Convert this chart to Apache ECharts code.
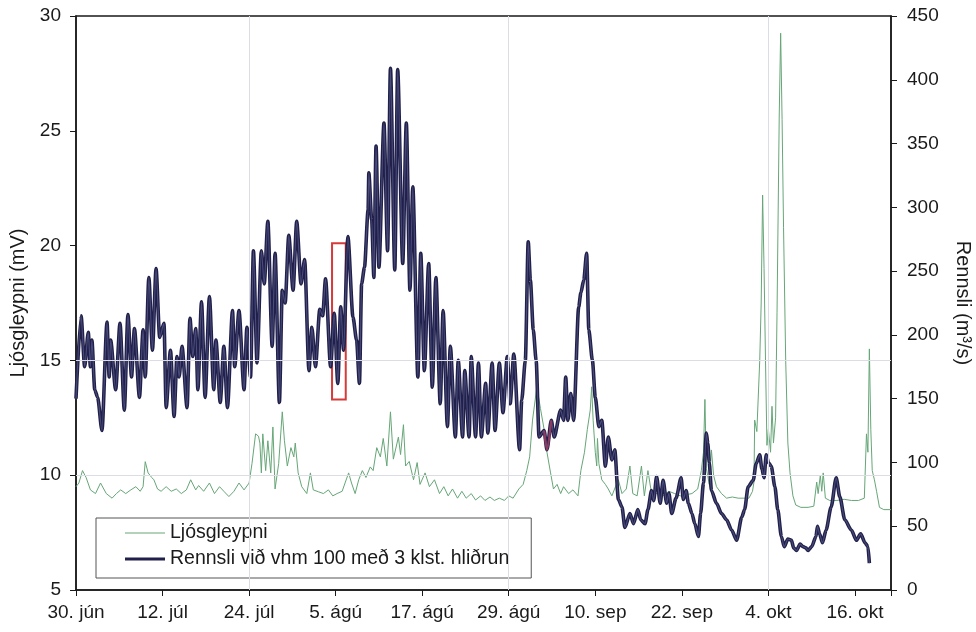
<!DOCTYPE html>
<html>
<head>
<meta charset="utf-8">
<script src="https://cdn.jsdelivr.net/npm/echarts@6/dist/echarts.min.js"></script>
<style>
html,body{margin:0;padding:0;background:#fff;}
#chart{width:976px;height:632px;}
</style>
</head>
<body>
<div id="chart"></div>
<script>
// x values are days after 30. jún
const xTickLabels = ['30. jún','12. júl','24. júl','5. ágú','17. ágú','29. ágú','10. sep','22. sep','4. okt','16. okt'];

// Ljósgleypni (mV), left axis: [day, value]
const ljosgleypni = [
[0,9.5],[0.4,9.66],[0.9,10.2],[1.4,9.9],[2.0,9.36],[2.7,9.2],[3.4,9.66],[4.2,9.2],[5.0,9.0],[5.6,9.2],[6.2,9.36],[6.9,9.2],[7.6,9.36],[8.3,9.5],[8.9,9.3],[9.3,9.5],[9.6,10.59],[10.0,10.1],[10.5,9.9],[10.8,9.8],[11.3,9.4],[11.8,9.3],[12.5,9.5],[13.2,9.3],[13.9,9.4],[14.6,9.2],[15.3,9.36],[15.9,9.8],[16.6,9.36],[17.0,9.55],[17.7,9.3],[18.5,9.66],[19.2,9.2],[19.9,9.5],[20.5,9.3],[21.2,9.07],[21.9,9.3],[22.6,9.66],[23.3,9.36],[24.0,9.66],[24.4,10.5],[24.9,11.8],[25.3,11.7],[25.5,11.4],[25.7,10.1],[25.9,11.8],[26.3,10.2],[26.6,11.5],[27.0,10.1],[27.3,12.1],[27.6,9.4],[28.1,10.5],[28.6,12.76],[28.9,11.5],[29.3,10.4],[29.8,11.2],[30.2,10.8],[30.4,11.4],[30.8,10.1],[31.3,9.5],[32.0,9.2],[32.5,10.1],[32.9,9.36],[33.6,9.28],
[34.3,9.2],[35.0,9.36],[35.6,9.1],[36.2,9.2],[36.9,9.3],[37.8,10.1],[38.2,9.66],[38.7,9.2],[39.2,9.8],[39.7,10.2],[40.2,9.9],[40.8,10.36],[41.2,10.2],[41.7,11.2],[42.2,10.8],[42.6,11.6],[43.1,10.4],[43.6,12.76],[44.0,10.7],[44.7,11.66],[45.0,10.9],[45.4,12.2],[45.7,10.4],[46.2,10.6],[46.8,9.8],[47.3,10.55],[47.7,9.6],[48.4,10.1],[49.0,9.5],[49.7,9.8],[50.4,9.2],[51.0,9.5],[51.6,9.1],[52.2,9.4],[52.9,9.0],[53.5,9.3],[54.1,9.0],[54.8,9.2],[55.4,8.92],[56.1,9.1],[56.7,8.9],[57.4,9.05],[58.0,8.9],[58.7,9.0],[59.4,8.9],[60.0,9.1],[60.6,9.0],[61.4,9.4],[62.0,9.6],[62.5,10.2],[62.9,10.8],[63.3,12.4],[63.9,13.85],[64.4,12.9],[64.9,12.0],[65.3,11.0],[65.8,10.1],[66.2,9.4],[66.7,9.6],[67.2,9.2],[67.6,9.5],[68.3,9.2],[68.9,9.36],[69.6,9.1],[70.0,10.2],[70.5,11.0],[70.9,12.0],[71.3,12.84],[71.5,13.85],[71.7,12.4],[72.0,11.0],[72.2,10.4],[72.3,11.6],[72.5,10.5],[72.9,9.8],[73.4,9.6],[73.8,9.4],[74.3,9.1],[74.8,9.5],[75.2,9.8],[75.7,9.2],[76.3,9.4],[76.8,10.4],[77.2,9.2],[77.8,9.1],
[78.4,10.4],[78.8,9.1],[79.3,10.2],[79.8,9.2],[80.6,9.2],[81.4,9.1],[82.2,9.3],[83.0,9.2],[83.8,9.1],[84.6,9.15],[85.4,9.2],[86.2,9.4],[86.7,10.2],[87.0,11.0],[87.2,13.3],[87.4,10.3],[87.8,9.6],[88.1,11.1],[88.4,10.0],[88.8,9.5],[89.5,9.2],[90.2,9.0],[91.0,9.05],[91.8,9.0],[92.6,9.0],[93.3,9.0],[93.8,9.3],[94.0,9.7],[94.1,12.4],[94.4,11.9],[94.8,15.0],[95.0,17.5],[95.2,22.2],[95.4,19.0],[95.6,15.0],[95.8,11.3],[96.0,12.0],[96.3,11.0],[96.5,13.0],[96.7,11.4],[97.0,12.5],[97.2,17.1],[97.5,25.6],[97.7,29.25],[97.9,25.5],[98.1,20.8],[98.4,15.0],[98.7,11.4],[99.0,10.1],[99.4,9.1],[99.8,8.7],[100.5,8.6],[101.5,8.6],[102.3,8.65],[102.7,9.7],[102.9,9.2],[103.2,10.0],[103.4,9.3],[103.6,10.1],[103.9,9.0],[104.5,8.9],[105.5,8.9],[106.5,8.95],[107.5,8.9],[108.5,8.9],[109.3,9.0],[109.6,11.8],[109.8,11.0],[110.0,15.5],[110.2,12.0],[110.4,10.2],[110.7,9.8],[111.0,9.3],[111.4,8.6],[112.0,8.5],[113,8.5]
];

// Rennsli (m3/s), right axis: [day, value]
const rennsli = [
[0,150],[0.7,215],[1.2,175],[1.7,202],[2.0,175],[2.2,196],[2.6,157],[3.0,151],[3.6,125],[4.3,210],[4.6,167],[4.8,196],[5.5,157],[6.1,209],[6.7,141],[7.2,216],[7.7,167],[8.1,205],[8.8,151],[9.3,204],[9.6,167],[10.1,245],[10.6,188],[11.1,252],[11.6,198],[12.2,209],[12.5,143],[13.1,188],[13.6,136],[14.0,183],[14.3,167],[14.7,191],[15.4,143],[15.8,213],[16.2,183],[16.6,205],[16.9,157],[17.4,226],[17.9,151],[18.5,230],
[19.1,157],[19.4,196],[20.0,147],[20.5,191],[21.0,143],[21.7,219],[22.0,175],[22.6,219],[23.3,157],[23.7,206],[24.2,167],[24.6,266],[25.1,178],[25.7,266],[26.1,240],[26.6,289],[27.2,191],[27.6,264],[28.2,147],[28.6,235],[29.0,225],[29.5,278],[30.1,235],[30.6,289],[31.2,240],[31.7,259],[32.3,172],[32.7,206],[33.2,175],[33.8,220],[34.2,215],[34.6,244],[35.3,175],[35.8,217],[36.3,162],[36.7,222],[37.1,188],[37.7,277],
[38.4,214],[38.9,196],[39.3,162],[39.6,240],[40.0,253],[40.5,298],[40.6,327],[41.0,290],[41.3,245],[41.6,348],[42.0,253],[42.7,366],[43.2,266],[43.6,409],[44.2,251],[44.6,408],[45.3,256],[45.8,366],[46.3,235],[46.7,316],[47.4,167],[47.8,264],[48.3,172],[48.9,256],[49.4,159],[49.9,245],[50.5,146],[50.9,219],[51.5,128],[51.9,191],[52.6,120],[53.0,180],[53.6,120],[53.9,172],[54.5,120],[54.8,183],[55.4,120],[55.8,178],[56.2,120],
[56.8,162],[57.1,123],[57.7,178],[58.1,125],[58.7,178],[59.2,139],[59.8,183],[60.2,146],[60.7,185],[61.5,110],[61.8,149],[62.3,180],[62.7,273],[63.0,243],[63.4,204],[63.8,180],[64.2,120],[64.9,125],[65.3,110],[65.9,133],[66.3,120],[67.2,141],[67.6,133],[67.9,167],[68.2,133],[68.6,154],[69.0,133],[69.7,222],[70.0,233],[70.4,243],[70.8,264],[71.1,204],[71.6,180],[72.0,151],[72.5,128],[72.9,133],[73.4,97],[73.8,120],[74.3,102],[74.7,110],[75.2,71],
[75.7,65],[76.1,49],[76.8,60],[77.3,52],[77.9,63],[78.3,55],[78.9,52],[79.3,63],[79.8,78],[80.1,70],[80.5,89],[81.0,68],[81.4,86],[81.9,68],[82.2,76],[82.6,60],[83.2,72],[83.9,88],[84.2,71],[84.6,78],[84.9,68],[85.4,60],[85.8,52],[86.3,42],[86.6,60],[87.0,84],[87.4,123],[87.6,115],[87.8,100],[88.1,78],[88.8,68],[89.5,60],[90.2,55],[90.9,47],[91.6,39],[92.3,57],[92.7,63],[93.2,81],[93.9,86],[94.3,99],[94.8,106],[95.1,95],[95.4,88],[95.7,106],[96.0,100],[96.4,97],[96.9,81],[97.3,63],[97.8,42],[98.2,34],[98.7,40],[99.2,39],[99.5,33],[99.9,31],[100.4,36],[100.8,34],[101.2,33],[101.5,31],[102.0,34],[102.6,42],[102.8,50],[103.1,44],[103.5,37],[104.0,47],[104.7,65],[105.4,88],[105.9,73],[106.6,55],[107.5,47],[108.2,39],[108.8,44],[109.4,37],[109.8,34],[110.0,21]
];

// annotations
const boxDays = [35.5, 37.4];      // red box, days
const boxLevels = [13.3, 20.1];    // red box, Ljósgleypni units
const highlightDays = [64.9, 65.9]; // reddish stretch of the flow line
const vGridDays = [24, 60, 96];
const hGridLevels = [10, 15];

const FONT = "'Liberation Sans', Arial, sans-serif";
const INK = '#1a1a1a';
const GREEN = '#66a677';
const NAVY = '#20204a';
const chart = echarts.init(document.getElementById('chart'), null, {renderer: 'canvas'});

const gridLines = vGridDays.map(d => ({xAxis: d})).concat(hGridLevels.map(v => ({yAxis: v})));
const highlightData = rennsli.filter(p => p[0] >= highlightDays[0] && p[0] <= highlightDays[1]);
const NAME_G = 'Ljósgleypni';
const NAME_R = 'Rennsli við vhm 100 með 3 klst. hliðrun';

chart.setOption({
  animation: false,
  backgroundColor: '#ffffff',
  textStyle: {fontFamily: FONT},
  grid: {left: 76, right: 85, top: 16, bottom: 42, show: true, borderColor: INK, borderWidth: 1.5,
         backgroundColor: 'transparent', containLabel: false, outerBoundsMode: 'none'},
  legend: {
    orient: 'vertical', left: 96, top: 518,
    backgroundColor: '#ffffff', borderColor: '#555', borderWidth: 1,
    padding: [5, 22, 9, 29], itemGap: 6, itemWidth: 40, itemHeight: 14,
    itemStyle: {borderWidth: 0},
    textStyle: {fontFamily: FONT, fontSize: 19.5, color: INK},
    data: [
      {name: NAME_G, icon: 'path://M0,0H40V1H0Z'},
      {name: NAME_R, icon: 'path://M0,0H40V3H0Z'}
    ]
  },
  xAxis: {
    type: 'value', min: 0, max: 113, interval: 12,
    axisLine: {onZero: false, lineStyle: {color: INK, width: 1.5}},
    axisTick: {show: true, length: 6, lineStyle: {color: INK}},
    axisLabel: {
      fontFamily: FONT, fontSize: 19, color: INK, margin: 13,
      formatter: v => (v % 12 === 0 && xTickLabels[v / 12] !== undefined) ? xTickLabels[v / 12] : ''
    },
    splitLine: {show: false}
  },
  yAxis: [
    {
      type: 'value', min: 5, max: 30, interval: 5,
      name: 'Ljósgleypni (mV)', nameLocation: 'middle', nameGap: 41,
      nameTextStyle: {fontFamily: FONT, fontSize: 20, color: INK},
      axisLine: {show: true, lineStyle: {color: INK, width: 1.5}},
      axisTick: {show: true, length: 6, lineStyle: {color: INK}},
      axisLabel: {fontFamily: FONT, fontSize: 19, color: INK, margin: 15},
      splitLine: {show: false}
    },
    {
      type: 'value', min: 0, max: 450, interval: 50, position: 'right',
      name: 'Rennsli (m³/s)', nameLocation: 'middle', nameGap: 62, nameRotate: -90,
      nameTextStyle: {fontFamily: FONT, fontSize: 20, color: INK},
      axisLine: {show: true, lineStyle: {color: INK, width: 1.5}},
      axisTick: {show: true, length: 6, lineStyle: {color: INK}},
      axisLabel: {fontFamily: FONT, fontSize: 19, color: INK, margin: 16},
      splitLine: {show: false}
    }
  ],
  series: [
    {
      name: NAME_G, type: 'line', yAxisIndex: 0, data: ljosgleypni,
      symbol: 'none', lineStyle: {color: GREEN, width: 1}, itemStyle: {color: GREEN},
      z: 2,
      markLine: {
        silent: true, symbol: 'none', label: {show: false},
        lineStyle: {color: '#dcdce4', width: 1, type: 'solid'},
        data: gridLines
      }
    },
    {
      name: NAME_R, type: 'line', yAxisIndex: 1, data: rennsli,
      symbol: 'none', smooth: 0.25, smoothMonotone: 'x',
      lineStyle: {color: NAVY, width: 3.6}, itemStyle: {color: NAVY},
      z: 3
    },
    {
      name: NAME_R + ' core', type: 'line', yAxisIndex: 1, data: rennsli,
      symbol: 'none', smooth: 0.25, smoothMonotone: 'x', silent: true,
      lineStyle: {color: '#4c4c7c', width: 1.1}, itemStyle: {color: '#4c4c7c'},
      z: 4
    },
    {
      name: 'highlight', type: 'line', yAxisIndex: 1, data: highlightData,
      symbol: 'none', smooth: 0.25, smoothMonotone: 'x', silent: true,
      lineStyle: {color: '#8a3c62', width: 2.4}, itemStyle: {color: '#8a3c62'},
      z: 5
    },
    {
      name: 'box', type: 'line', yAxisIndex: 0, data: [], silent: true,
      z: 6,
      markArea: {
        silent: true,
        itemStyle: {color: 'rgba(0,0,0,0)', borderColor: '#d63a3a', borderWidth: 2},
        data: [[{xAxis: boxDays[0], yAxis: boxLevels[0]}, {xAxis: boxDays[1], yAxis: boxLevels[1]}]]
      }
    }
  ]
});
</script>
</body>
</html>
